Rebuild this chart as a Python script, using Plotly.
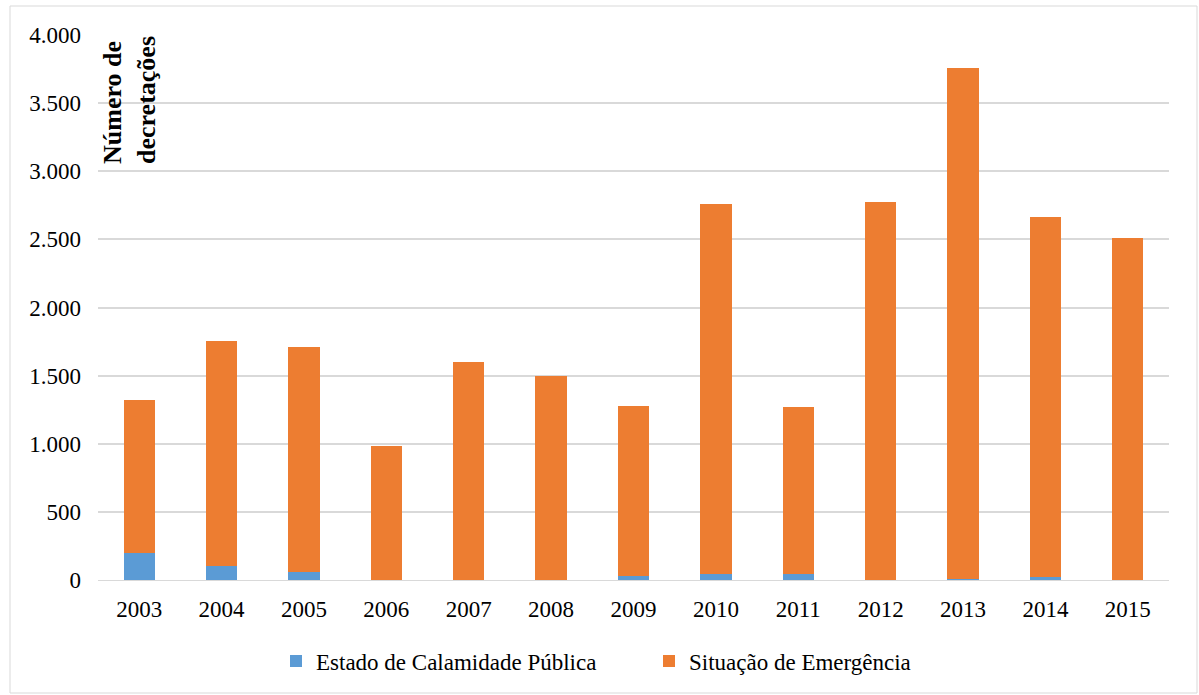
import plotly.graph_objects as go

years = ["2003", "2004", "2005", "2006", "2007", "2008", "2009",
         "2010", "2011", "2012", "2013", "2014", "2015"]
totals = [1321, 1756, 1708, 983, 1602, 1497, 1277, 2760, 1268, 2774, 3756, 2662, 2508]
calamidade = [200, 100, 58, 3, 2, 3, 30, 47, 47, 3, 4, 25, 2]
emergencia = [t - c for t, c in zip(totals, calamidade)]
ytick_vals = [0, 500, 1000, 1500, 2000, 2500, 3000, 3500, 4000]
ytick_text = ["0", "500", "1.000", "1.500", "2.000", "2.500", "3.000", "3.500", "4.000"]

FONT = "Liberation Serif"
W, H = 1199, 695
L, R, T, B = 98, 30, 35, 115
pw, ph = W - L - R, H - T - B


def px(x):
    return (x - L) / pw


def py(y):
    return (H - B - y) / ph


fig = go.Figure()
fig.add_trace(go.Bar(x=years, y=calamidade, name="Estado de Calamidade Pública",
                     marker=dict(color="#5B9BD5", line=dict(width=0))))
fig.add_trace(go.Bar(x=years, y=emergencia, name="Situação de Emergência",
                     marker=dict(color="#ED7D31", line=dict(width=0))))

fig.update_layout(
    barmode="stack",
    bargap=0.62,
    width=W, height=H,
    margin=dict(l=L, r=R, t=T, b=B, autoexpand=False),
    paper_bgcolor="white", plot_bgcolor="white",
    font=dict(family=FONT, size=23, color="black"),
    showlegend=True,
    legend=dict(orientation="h", x=px(276), xanchor="left", y=py(661), yanchor="middle",
                font=dict(family=FONT, size=23, color="black"),
                entrywidth=328, entrywidthmode="pixels",
                traceorder="normal"),
    xaxis=dict(showgrid=False, showline=True, linecolor="#d9d9d9", linewidth=1,
               ticks="", ticklabelstandoff=8, tickfont=dict(size=23)),
    yaxis=dict(range=[0, 4000], tickvals=ytick_vals, ticktext=ytick_text,
               showgrid=True, gridcolor="#d9d9d9", gridwidth=1.5, zeroline=False,
               showline=False, ticks="", ticklabelstandoff=16, tickfont=dict(size=23)),
    shapes=[dict(type="rect", xref="paper", yref="paper",
                 x0=px(10), x1=px(1197), y0=py(693), y1=py(6),
                 line=dict(color="#d9d9d9", width=1), fillcolor="rgba(0,0,0,0)", layer="below")],
    annotations=[dict(text="<b>Número de<br>decretações</b>", xref="paper", yref="paper",
                      x=px(130), y=py(100), xanchor="center", yanchor="middle",
                      textangle=-90, showarrow=False, align="left",
                      font=dict(family=FONT, size=26, color="black"))],
)

fig.write_html("out.html")
